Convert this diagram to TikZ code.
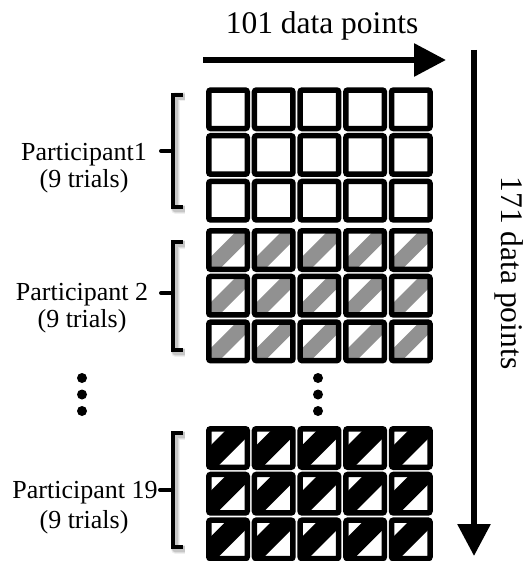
\documentclass[tikz,border=0pt]{standalone}
\usepackage{fontspec}
\setmainfont{Liberation Serif}
\usetikzlibrary{arrows.meta}
\newcommand{\plaincell}[2]{%
  \draw[cellbox] ({#1+2.75},{#2+2.75}) rectangle ++(38.5,38.5);}
\newcommand{\bandcell}[5]{%
  \begin{scope}
    \clip ({#1+2.75},{#2+2.75}) rectangle ++(38.5,38.5);
    \fill[#3] ({#1+5.5-20},{#2+38.5-(#5-20)}) -- ({#1+5.5+60},{#2+38.5-(#5+60)})
      -- ({#1+5.5+60},{#2+38.5-(#4+60)}) -- ({#1+5.5-20},{#2+38.5-(#4-20)}) -- cycle;
  \end{scope}
  \draw[cellbox] ({#1+2.75},{#2+2.75}) rectangle ++(38.5,38.5);}
\newcommand{\sqbrace}[4]{% top y, bottom y, tick y, tick end x
  \foreach \w/\o in {9/0.06,7/0.08,5.5/0.1}{
    \draw[line width=\w pt, black, opacity=\o, line join=round]
      (185,{#1+2}) -- (175,{#1+2}) -- (175,{#2+2}) -- (185,{#2+2});
  }
  \draw[bracestyle] (183,#1) -- (173,#1) -- (173,#2) -- (183,#2);
  \draw[tickstyle] (173,#3) -- (#4,#3);}
\begin{document}
\begin{tikzpicture}[x=1pt,y=-1pt,
  cellbox/.style={line width=5.5pt, rounded corners=2pt},
  lbl/.style={font=\fontsize{26}{26}\selectfont, anchor=base, inner sep=0pt},
  big/.style={font=\fontsize{31.5}{31.5}\selectfont, anchor=base, inner sep=0pt},
  bracestyle/.style={line width=4.5pt},
  tickstyle/.style={line width=4pt, line cap=round},
  arr/.style={line width=6pt, -{Triangle[length=32pt,width=32pt]}}]
\useasboundingbox (0,0) rectangle (527,561);
% grid
\foreach \c in {0,...,4}{
  \foreach \r in {0,1,2}{
    \plaincell{206+45.7*\c}{87.3+45.7*\r}
    \bandcell{206+45.7*\c}{228+45.7*\r}{black!43}{-10.5}{10.5}
    \bandcell{206+45.7*\c}{426+45.7*\r}{black}{-8}{20}
  }
}
% arrows
\coordinate (hs) at (203,60);
\coordinate (he) at (446,60);
\draw[arr] (hs) -- (he);
\coordinate (vs) at (474,50);
\coordinate (ve) at (474,556);
\draw[arr] (vs) -- (ve);
\node[big] (toplbl) at (322,34) {101 data points};
\node[big, rotate=-90] (sidelbl) at (501,273) {171 data points};
% labels
\node[lbl] (p1a) at (84,161) {Participant1};
\node[lbl] (p1b) at (84,187) {(9 trials)};
\node[lbl] (p2a) at (82,300) {Participant 2};
\node[lbl] (p2b) at (82,327) {(9 trials)};
\node[lbl] (p19a) at (85,498) {Participant 19};
\node[lbl] (p19b) at (84,528) {(9 trials)};
% braces
\sqbrace{95}{207}{151}{161}
\sqbrace{242}{350}{293}{161}
\sqbrace{433}{547}{490}{160}
% dots
\foreach \yy in {378,394.5,411}{
  \fill (82,\yy) circle (5pt);
  \fill (318,\yy) circle (5pt);
}
\end{tikzpicture}
\end{document}
